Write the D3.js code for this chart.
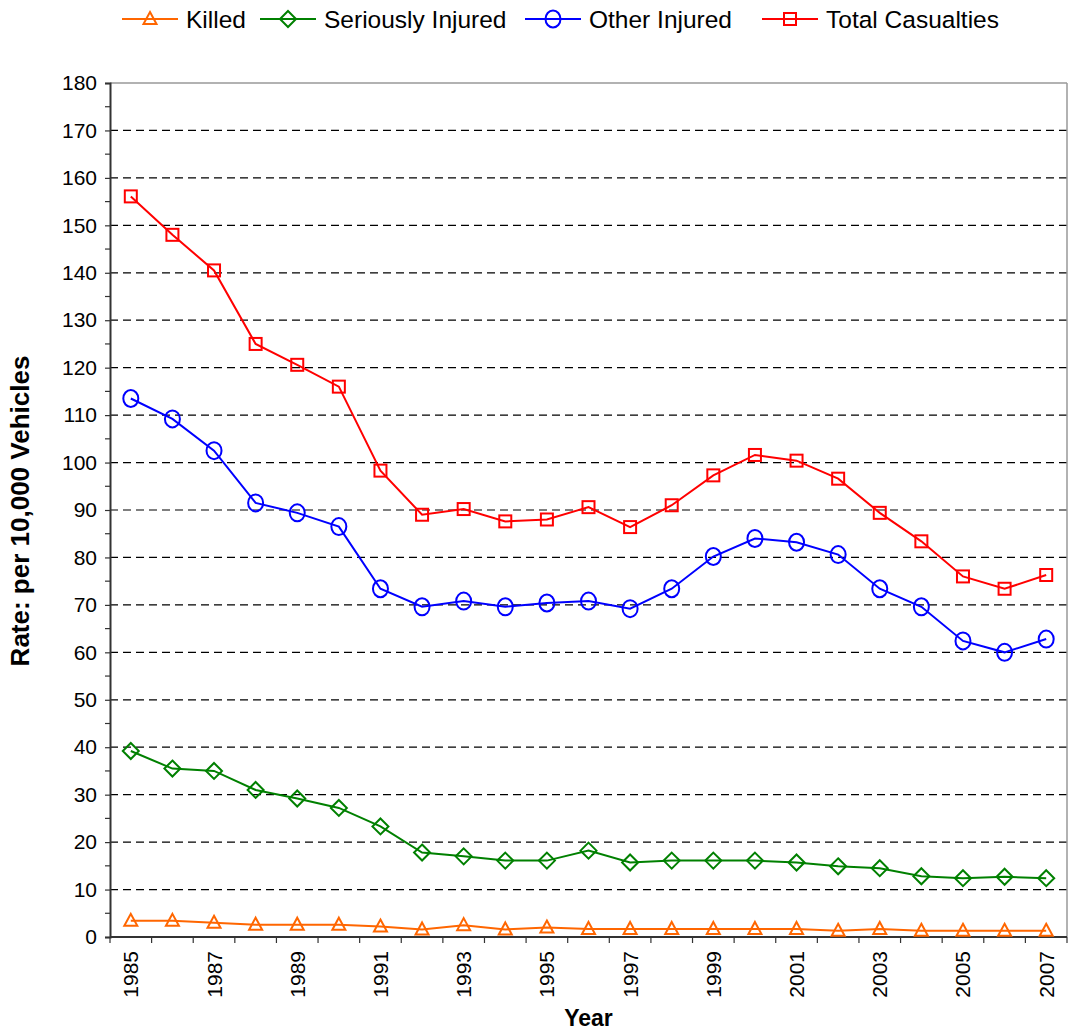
<!DOCTYPE html>
<html><head><meta charset="utf-8">
<script src="https://cdn.jsdelivr.net/npm/d3@7"></script>
<style>body{margin:0;background:#fff}svg{display:block;font-family:"Liberation Sans",Arial,sans-serif}</style>
</head><body><svg id="c" width="1072" height="1033"></svg>
<script>
const years = [1985,1986,1987,1988,1989,1990,1991,1992,1993,1994,1995,1996,1997,1998,1999,2000,2001,2002,2003,2004,2005,2006,2007];
const killed = [3.4,3.4,3.0,2.6,2.6,2.6,2.2,1.6,2.5,1.6,2.0,1.7,1.7,1.7,1.7,1.7,1.7,1.3,1.7,1.3,1.3,1.3,1.3];
const seriouslyInjured = [39.2,35.5,35.0,31.0,29.2,27.2,23.3,17.8,17.0,16.1,16.1,18.2,15.7,16.1,16.1,16.1,15.7,14.9,14.5,12.8,12.4,12.7,12.4];
const otherInjured = [113.5,109.2,102.5,91.5,89.4,86.5,73.4,69.6,70.8,69.6,70.4,70.8,69.2,73.4,80.2,84.0,83.2,80.6,73.4,69.6,62.4,60.0,62.8];
const totalCasualties = [156.1,148.0,140.5,125.0,120.6,116.0,98.3,89.0,90.2,87.6,88.0,90.6,86.4,91.0,97.3,101.6,100.4,96.6,89.4,83.4,76.0,73.4,76.3];
const seriesNames = ["Killed","Seriously Injured","Other Injured","Total Casualties"];
const seriesColors = ["#FF6600","#008000","#0000FF","#FF0000"];
const seriesShapes = ["triangle","diamond","circle","square"];
const yTicks = [0,10,20,30,40,50,60,70,80,90,100,110,120,130,140,150,160,170,180];

const svg = d3.select("#c");
const L=110, R=1067, T=83, B=937;
const x = d3.scalePoint().domain(years).range([L,R]).padding(0.5);
const y = d3.scaleLinear().domain([0,180]).range([B,T]);
const step = x.step();

// gridlines
svg.append("g").selectAll("line").data(yTicks.filter(v=>v>0&&v<180)).join("line")
  .attr("x1",L).attr("x2",R).attr("y1",d=>y(d)).attr("y2",d=>y(d))
  .attr("stroke","#000").attr("stroke-width",1.2).attr("stroke-dasharray","8,5");
// frame top/right
svg.append("line").attr("x1",L).attr("x2",R).attr("y1",T).attr("y2",T).attr("stroke","#999").attr("stroke-width",1.5);
svg.append("line").attr("x1",R).attr("x2",R).attr("y1",T).attr("y2",B).attr("stroke","#999").attr("stroke-width",1.5);

// y axis
const yAxis = d3.axisLeft(y).tickValues(yTicks).tickSize(5).tickPadding(8);
const gy = svg.append("g").attr("transform",`translate(${L},0)`).call(yAxis);
gy.select(".domain").attr("stroke","#333").attr("stroke-width",2);
gy.selectAll(".tick line").attr("stroke","#333").attr("stroke-width",1.2);
gy.selectAll(".tick text").attr("font-size",21).attr("fill","#000").attr("font-family","Liberation Sans, Arial, sans-serif");
// minor ticks
svg.append("g").selectAll("line").data(d3.range(5,180,10)).join("line")
  .attr("x1",L-5).attr("x2",L).attr("y1",d=>y(d)).attr("y2",d=>y(d)).attr("stroke","#333").attr("stroke-width",1.2);

// x axis
svg.append("line").attr("x1",L).attr("x2",R).attr("y1",B).attr("y2",B).attr("stroke","#333").attr("stroke-width",2);
svg.append("g").selectAll("line").data(d3.range(years.length+1)).join("line")
  .attr("x1",i=>L+i*step).attr("x2",i=>L+i*step).attr("y1",B).attr("y2",B+6).attr("stroke","#333").attr("stroke-width",1.2);
svg.append("g").selectAll("text").data(years.filter((d,i)=>i%2===0)).join("text")
  .attr("transform",d=>`translate(${x(d)},${B+14}) rotate(-90)`)
  .attr("text-anchor","end").attr("dominant-baseline","central")
  .attr("font-size",21).attr("fill","#000").text(d=>d);

// axis titles
svg.append("text").attr("x",(L+R)/2).attr("y",1026).attr("text-anchor","middle")
  .attr("font-weight","bold").attr("font-size",23).text("Year");
svg.append("text").attr("transform",`translate(29,${(T+B)/2+1}) rotate(-90)`).attr("text-anchor","middle")
  .attr("font-weight","bold").attr("font-size",26).text("Rate: per 10,000 Vehicles");

function marker(g, shape, cx, cy, color){
  if(shape==="circle"){
    g.append("ellipse").attr("cx",cx).attr("cy",cy).attr("rx",7.5).attr("ry",8.5).attr("fill","none").attr("stroke",color).attr("stroke-width",2);
  } else if(shape==="square"){
    g.append("rect").attr("x",cx-6).attr("y",cy-6).attr("width",12).attr("height",12).attr("fill","none").attr("stroke",color).attr("stroke-width",2);
  } else if(shape==="diamond"){
    g.append("path").attr("d",`M${cx},${cy-8}L${cx+8},${cy}L${cx},${cy+8}L${cx-8},${cy}Z`).attr("fill","none").attr("stroke",color).attr("stroke-width",2);
  } else {
    g.append("path").attr("d",`M${cx},${cy-7}L${cx+6.5},${cy+5}L${cx-6.5},${cy+5}Z`).attr("fill","none").attr("stroke",color).attr("stroke-width",2);
  }
}

const allSeries = [killed, seriouslyInjured, otherInjured, totalCasualties];
const line = d3.line().x((d,i)=>x(years[i])).y(d=>y(d));
allSeries.forEach((vals,si)=>{
  const g = svg.append("g");
  g.append("path").attr("d",line(vals)).attr("fill","none").attr("stroke",seriesColors[si]).attr("stroke-width",2);
  vals.forEach((v,i)=>marker(g, seriesShapes[si], x(years[i]), y(v), seriesColors[si]));
});

// legend
const legX = [122, 260, 525, 762];
seriesNames.forEach((n,i)=>{
  const g = svg.append("g");
  g.append("line").attr("x1",legX[i]).attr("x2",legX[i]+56).attr("y1",19).attr("y2",19).attr("stroke",seriesColors[i]).attr("stroke-width",2);
  marker(g, seriesShapes[i], legX[i]+28, 19, seriesColors[i]);
  g.append("text").attr("x",legX[i]+64).attr("y",28).attr("font-size",24.5).attr("fill","#000").text(n);
});
</script></body></html>
